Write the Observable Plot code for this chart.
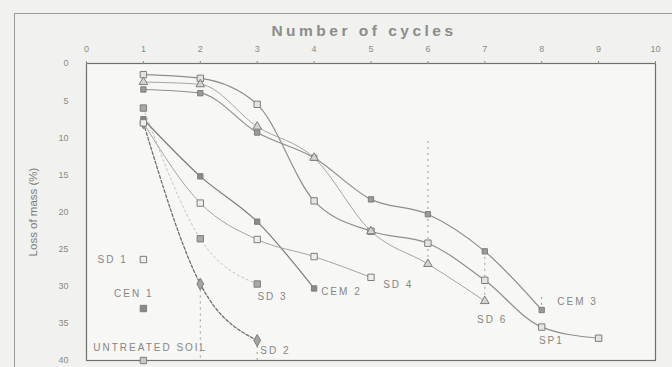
<!DOCTYPE html>
<html><head><meta charset="utf-8">
<script src="https://cdn.jsdelivr.net/npm/d3@7"></script>
<script src="https://cdn.jsdelivr.net/npm/@observablehq/plot@0.6"></script>
<style>
html,body{margin:0;padding:0;background:#f1f2ef;}
#wrap{position:relative;width:672px;height:367px;overflow:hidden;}
#border{position:absolute;left:14px;top:13px;width:700px;height:400px;border-top:1.5px solid #9a9a98;border-left:1.5px solid #9a9a98;}
#chart{position:absolute;left:0;top:0;}
</style></head><body>
<div id="wrap"><div id="border"></div><div id="chart"></div></div>
<script>
// ---- data ----
const xTicks = [0,1,2,3,4,5,6,7,8,9,10];
const yTicks = [0,5,10,15,20,25,30,35,40];
const xTitle = "Number of cycles";
const yTitle = "Loss of mass (%)";

const sp1Cycles  = [1,2,3,4,5,6,7,8,9];
const sp1Loss    = [1.5,2,5.5,18.5,22.6,24.2,29.2,35.5,37];
const cem3Cycles = [1,2,3,4,5,6,7,8];
const cem3Loss   = [3.5,4,9.3,12.7,18.3,20.3,25.3,33.2];
const sd6Cycles  = [1,2,3,4,5,6,7];
const sd6Loss    = [2.5,2.8,8.5,12.7,22.6,27,32];
const sd2Cycles  = [1,2,3];
const sd2Loss    = [8,29.7,37.3];
const sd3Cycles  = [1,2,3];
const sd3Loss    = [6,23.6,29.7];
const cem2Cycles = [1,2,3,4];
const cem2Loss   = [7.5,15.2,21.3,30.3];
const sd4Cycles  = [1,2,3,4,5];
const sd4Loss    = [8,18.8,23.7,26,28.8];
const sd1Cycles  = [1];
const sd1Loss    = [26.4];
const cem1Cycles = [1];
const cem1Loss   = [33];
const untreatedCycles = [1];
const untreatedLoss   = [40];

// drop guide lines (cycle, from loss, to loss)
const dropCycles = [2,3,6,7,8];
const dropFrom   = [29.7,37.3,10.5,25.3,31.5];
const dropTo     = [40,40,27,32,33.2];

// text labels centred at data coordinates
const labelText  = ["SD 1","CEN 1","UNTREATED SOIL","SD 2","SD 3","CEM 2","SD 4","SD 6","CEM 3","SP1"];
const labelCycle = [0.46,0.83,1.12,3.32,3.27,4.48,5.48,7.13,8.63,8.17];
const labelLoss  = [26.4,31,38.3,38.7,31.4,30.8,29.8,34.5,32.1,37.4];

// ---- build tables ----
const rows = (name, xs, ys) => xs.map((x,i)=>({series:name, cycle:x, loss:ys[i]}));
const sp1 = rows("SP1", sp1Cycles, sp1Loss);
const cem3 = rows("CEM 3", cem3Cycles, cem3Loss);
const sd6 = rows("SD 6", sd6Cycles, sd6Loss);
const sd2 = rows("SD 2", sd2Cycles, sd2Loss);
const sd3 = rows("SD 3", sd3Cycles, sd3Loss);
const cem2 = rows("CEM 2", cem2Cycles, cem2Loss);
const sd4 = rows("SD 4", sd4Cycles, sd4Loss);
const sd1 = rows("SD 1", sd1Cycles, sd1Loss);
const cem1 = rows("CEM 1", cem1Cycles, cem1Loss);
const untreated = rows("UNTREATED SOIL", untreatedCycles, untreatedLoss);
const drops = dropCycles.map((c,i)=>({cycle:c, y1:dropFrom[i], y2:dropTo[i]}));
const labels = labelText.map((t,i)=>({text:t, cycle:labelCycle[i], loss:labelLoss[i]}));

const lineCol = "#8e8e8a";
const textCol = "#8a8a86";
const font = "'Liberation Sans', Arial, sans-serif";

const lineOpts = (extra={}) => ({x:"cycle", y:"loss", stroke:lineCol, strokeWidth:1.1, curve:"monotone-x", ...extra});
const dotOpts = (symbol, fill, extra={}) => ({x:"cycle", y:"loss", symbol, r:3.6, fill, stroke:"#7e7e7a", strokeWidth:1, ...extra});

const chart = Plot.plot({
  width: 672, height: 367,
  marginLeft: 86, marginRight: 17, marginTop: 63, marginBottom: 7,
  style: {background:"transparent", fontFamily: font, color: textCol},
  x: {domain:[0,10]},
  y: {domain:[0,40], reverse:true},
  marks: [
    Plot.rect([0], {x1:0, x2:10, y1:0, y2:40, fill:"#f7f7f5"}),
    Plot.ruleX(drops, {x:"cycle", y1:"y1", y2:"y2", stroke:"#9a9a96", strokeDasharray:"2,4", strokeWidth:1}),
    Plot.frame({stroke:"#70706c", strokeWidth:1.2}),
    Plot.axisX({anchor:"top", ticks:xTicks, tickSize:3, tickPadding:9, label:null, fontSize:9, fill:textCol, stroke:"#888884", tickFormat:d=>String(d)}),
    Plot.axisY({anchor:"left", ticks:yTicks, tickSize:0, tickPadding:18, label:null, fontSize:9, fill:textCol, tickFormat:d=>String(d)}),
    Plot.text([xTitle], {frameAnchor:"top", textAnchor:"middle", text:d=>d, dy:-39, dx:-7, fontSize:15.5, fontWeight:"bold", fill:"#8c8c88"}),
    Plot.text([yTitle], {frameAnchor:"left", textAnchor:"middle", text:d=>d, dx:-53, rotate:-90, fontSize:11.5, fill:"#7c7c78"}),
    Plot.line(sp1, lineOpts({strokeWidth:1.2})),
    Plot.line(cem3, lineOpts({strokeWidth:1.2})),
    Plot.line(sd6, lineOpts({strokeWidth:0.9, stroke:"#9c9c98"})),
    Plot.line(sd2, lineOpts({strokeDasharray:"3,2", stroke:"#70706c", strokeWidth:1.3})),
    Plot.line(sd3, lineOpts({strokeDasharray:"2,3", stroke:"#b2b2ae", strokeWidth:0.8})),
    Plot.line(cem2, lineOpts({strokeWidth:1.2, stroke:"#7c7c78"})),
    Plot.line(sd4, lineOpts({strokeWidth:0.9, stroke:"#9c9c98"})),
    Plot.dot(sp1, dotOpts("square", "#e4e4e2")),
    Plot.dot(cem3, dotOpts("square", "#9a9a96", {r:3})),
    Plot.dot(sd6, dotOpts("triangle", "#d4d4d0", {r:3.2})),
    Plot.dot(sd2, dotOpts("diamond", "#a4a4a0")),
    Plot.dot(sd3, dotOpts("square", "#a8a8a4")),
    Plot.dot(cem2, dotOpts("square", "#8a8a86", {r:3})),
    Plot.dot(sd4, dotOpts("square", "#eeeeec")),
    Plot.dot(sd1, dotOpts("square", "#eeeeec")),
    Plot.dot(cem1, dotOpts("square", "#8a8a86")),
    Plot.dot(untreated, dotOpts("square", "#c8c8c4")),
    Plot.text(labels, {x:"cycle", y:"loss", text:"text", textAnchor:"middle", fontSize:10, fill:"#868682"})
  ]
});
// letter spacing to match the wide scanned lettering
d3.select(chart).selectAll("text")
  .filter(function(){ return this.textContent === xTitle; })
  .style("letter-spacing", "3.5px");
d3.select(chart).selectAll("text")
  .filter(function(){ return labelText.includes(this.textContent); })
  .style("letter-spacing", "2px");
document.getElementById("chart").appendChild(chart);
</script>
</body></html>
